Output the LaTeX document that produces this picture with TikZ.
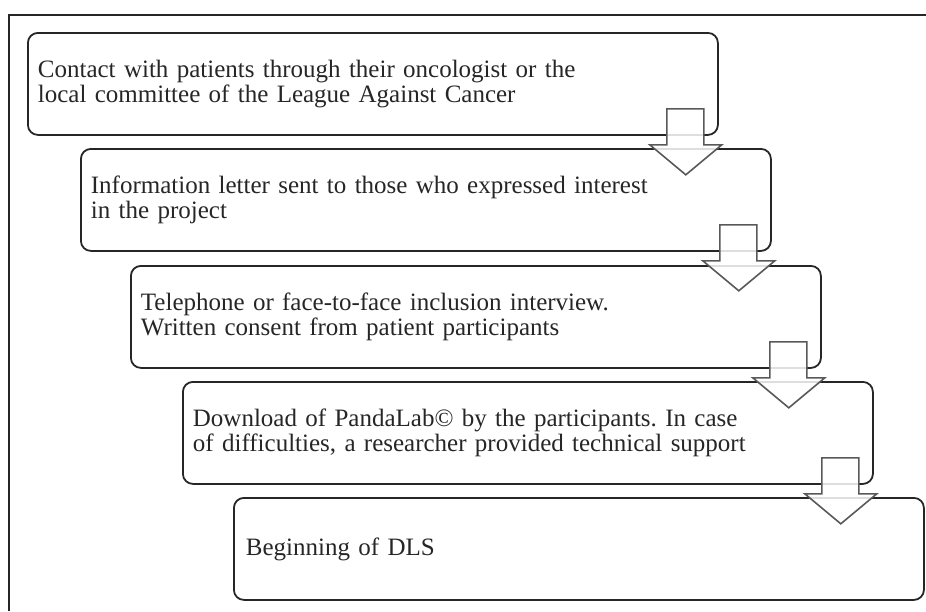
\documentclass[tikz,border=0pt]{standalone}
\usepackage{fontspec}
\setmainfont{Liberation Serif}
\usepackage{tikz}
\usetikzlibrary{calc}
\frenchspacing

\begin{document}
\begin{tikzpicture}[x=1pt,y=-1pt,
    stepbox/.style={draw=black!85, line width=1.8pt, rounded corners=10pt,
        anchor=north west, minimum width=690pt, minimum height=102pt,
        text width=670pt, inner xsep=10pt, align=left, text=black!85,
        font=\fontsize{25}{25}\selectfont},
    downarrow/.style={draw=black!65, line width=1.6pt, fill=white,
        fill opacity=0.85, line join=miter}]
    \useasboundingbox (0,0) rectangle (926,611);
    % frame
    \draw[line width=1.4pt, black!85] (9,611) -- (9,15) -- (926,15);
    % steps
    \node[stepbox] (s1) at (27,32) {Contact with patients through their oncologist or the\\local committee of the League Against Cancer};
    \node[stepbox] (s2) at (80,148) {Information letter sent to those who expressed interest\\in the project};
    \node[stepbox] (s3) at (130,265) {Telephone or face-to-face inclusion interview.\\Written consent from patient participants};
    \node[stepbox] (s4) at (182,381) {Download of PandaLab\textcopyright{} by the participants. In case\\of difficulties, a researcher provided technical support};
    \node[stepbox, inner xsep=12pt, text width=666pt] (s5) at (233,497) {Beginning of DLS};
    % arrows between steps
    \foreach \a/\b in {s1/s2,s2/s3,s3/s4,s4/s5} {
        \draw[downarrow] ($(\a.south east)+(-52,-27)$) -- ++(37,0) -- ++(0,36)
            -- ++(18,0) -- ($(\a.south east)+(-33,39)$)
            -- ++(-36,-30) -- ++(17,0) -- cycle;
    }
\end{tikzpicture}
\end{document}
